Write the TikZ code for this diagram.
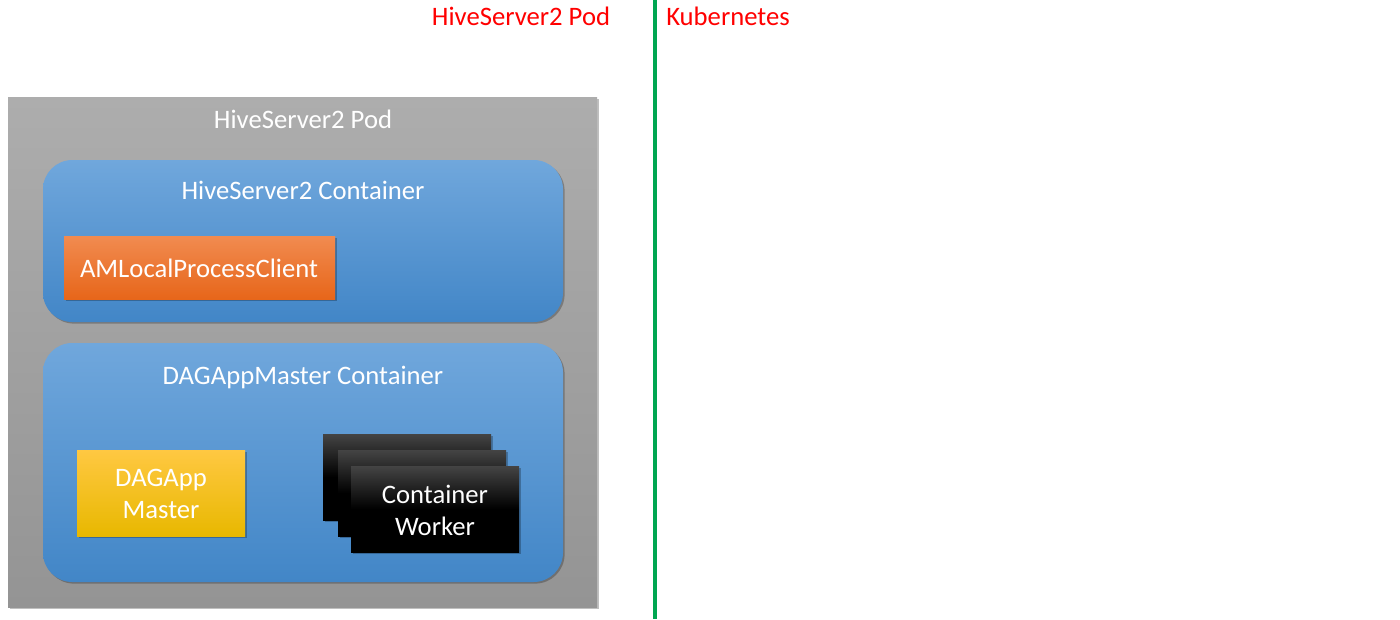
\documentclass[tikz,border=0pt]{standalone}
\usepackage{fontspec}
\setmainfont{Carlito}
\usetikzlibrary{fit,shadows}
\definecolor{podtop}{RGB}{173,173,173}
\definecolor{podbot}{RGB}{148,148,148}
\definecolor{bluetop}{RGB}{112,167,220}
\definecolor{bluebot}{RGB}{66,134,199}
\definecolor{orangetop}{RGB}{241,139,80}
\definecolor{orangebot}{RGB}{231,102,26}
\definecolor{goldtop}{RGB}{255,200,66}
\definecolor{goldbot}{RGB}{232,184,0}
\definecolor{blacktop}{RGB}{68,68,68}
\definecolor{blackbot}{RGB}{0,0,0}
\definecolor{kgreen}{RGB}{0,166,81}
\definecolor{kred}{RGB}{255,0,0}
\begin{document}
\begin{tikzpicture}[x=0.75pt,y=-0.75pt,
  boxbase/.style={inner sep=0pt, outer sep=0pt, draw=none},
  shad/.style={drop shadow={shadow xshift=1.2pt, shadow yshift=-1.2pt, opacity=0.25, fill=black}},
  podbox/.style={boxbase, shad, top color=podtop, bottom color=podbot},
  contbox/.style={boxbase, shad, rounded corners=22pt, top color=bluetop, bottom color=bluebot},
  orangebox/.style={boxbase, shad, top color=orangetop, bottom color=orangebot},
  goldbox/.style={boxbase, shad, top color=goldtop, bottom color=goldbot},
  blackbox/.style={boxbase, shad, top color=blacktop, bottom color=blackbot, middle color=blackbot},
  wtxt/.style={text=white, font=\fontsize{20}{24}\selectfont, align=center},
  rtxt/.style={text=kred, font=\fontsize{20}{24}\selectfont},
]
\useasboundingbox (0,0) rectangle (1400,619);
\fill[white] (0,0) rectangle (1400,619);

% top labels and divider
\node[rtxt] (lblpod) at (521,16) {HiveServer2 Pod};
\node[rtxt] (lblk8s) at (728,16) {Kubernetes};
\coordinate (divtop) at (655,0);
\coordinate (divbot) at (655,619);
\draw[kgreen, line width=3pt] (divtop) -- (divbot);

% pod
\node[podbox, fit={(8,97) (597,607)}] (pod) {};
\node[wtxt] (podtitle) at (303,119) {HiveServer2 Pod};

% HiveServer2 container
\node[contbox, fit={(43,160) (563,322)}] (hscont) {};
\node[wtxt] (hstitle) at (303,190) {HiveServer2 Container};
\node[orangebox, fit={(64,236) (335,299)}] (amclient) {};
\node[wtxt] (amclienttxt) at (199,268) {AMLocalProcessClient};

% DAGAppMaster container
\node[contbox, fit={(43,343) (563,582)}] (dagcont) {};
\node[wtxt] (dagtitle) at (303,377) {DAGAppMaster Container};
\node[goldbox, fit={(77,450) (245,536)}] (dagam) {};
\node[wtxt] (dagamtxt) at (161,494) {DAGApp\\Master};

\node[blackbox, fit={(323,434) (491,520)}] (worker1) {};
\node[blackbox, fit={(338,450) (506,536)}] (worker2) {};
\node[blackbox, fit={(351,466) (519,552)}] (worker3) {};
\node[wtxt] (workertxt) at (435,510) {Container\\Worker};
\end{tikzpicture}
\end{document}
